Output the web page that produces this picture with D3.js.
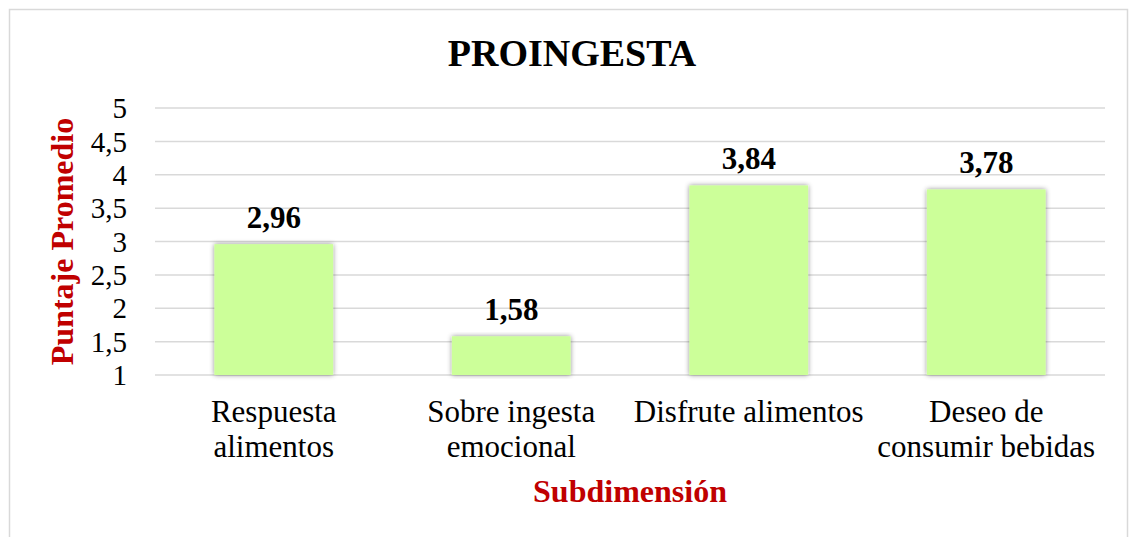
<!DOCTYPE html>
<html>
<head>
<meta charset="utf-8">
<script src="https://cdn.jsdelivr.net/npm/d3@7"></script>
<style>
  body { margin: 0; background: #fff; }
  svg { display: block; }
  text { font-family: "Liberation Serif", "Times New Roman", serif; }
</style>
</head>
<body>
<svg id="chart"></svg>
<script>
// Data
var categories = [["Respuesta", "alimentos"], ["Sobre ingesta", "emocional"], ["Disfrute alimentos"], ["Deseo de", "consumir bebidas"]];
var values = [2.96, 1.58, 3.84, 3.78];
var valueLabels = ["2,96", "1,58", "3,84", "3,78"];
var yTicks = [1, 1.5, 2, 2.5, 3, 3.5, 4, 4.5, 5];

var config = {
  width: 1136,
  height: 537,
  plot: { left: 155, right: 1105, top: 108, bottom: 375 },
  barColor: "#CCFF99",
  gridColor: "#D9D9D9",
  titleColor: "#C00000"
};

var svg = d3.select("#chart")
  .attr("width", config.width)
  .attr("height", config.height);

// shadow round the bars
var defs = svg.append("defs");
var filter = defs.append("filter").attr("id", "barShadow")
  .attr("x", "-20%").attr("y", "-10%").attr("width", "140%").attr("height", "120%");
filter.append("feDropShadow")
  .attr("dx", 0).attr("dy", 0).attr("stdDeviation", 2.5)
  .attr("flood-color", "#000").attr("flood-opacity", 0.45);

// outer frame
svg.append("rect")
  .attr("x", 9.5).attr("y", 9.5)
  .attr("width", 1118).attr("height", 540)
  .attr("fill", "none").attr("stroke", config.gridColor).attr("stroke-width", 1.5);

var x = d3.scaleBand()
  .domain(d3.range(categories.length))
  .range([config.plot.left, config.plot.right])
  .paddingInner(0.5).paddingOuter(0.25);

var y = d3.scaleLinear()
  .domain([1, 5])
  .range([config.plot.bottom, config.plot.top]);

// gridlines
svg.append("g")
  .selectAll("line")
  .data(yTicks)
  .join("line")
  .attr("x1", config.plot.left).attr("x2", config.plot.right)
  .attr("y1", function(d) { return y(d); }).attr("y2", function(d) { return y(d); })
  .attr("stroke", config.gridColor).attr("stroke-width", 1.5);

// y tick labels
svg.append("g")
  .selectAll("text")
  .data(yTicks)
  .join("text")
  .attr("x", 127)
  .attr("y", function(d) { return y(d); })
  .attr("dy", "0.35em")
  .attr("text-anchor", "end")
  .attr("font-size", 29)
  .attr("fill", "#000")
  .text(function(d) { return String(d).replace(".", ","); });

// bars
svg.append("g")
  .selectAll("rect")
  .data(values)
  .join("rect")
  .attr("x", function(d, i) { return x(i); })
  .attr("y", function(d) { return y(d); })
  .attr("width", x.bandwidth())
  .attr("height", function(d) { return y(1) - y(d); })
  .attr("fill", config.barColor)
  .attr("filter", "url(#barShadow)");

// value labels
svg.append("g")
  .selectAll("text")
  .data(values)
  .join("text")
  .attr("x", function(d, i) { return x(i) + x.bandwidth() / 2; })
  .attr("y", function(d) { return y(d) - 16; })
  .attr("text-anchor", "middle")
  .attr("font-size", 31)
  .attr("font-weight", "bold")
  .text(function(d, i) { return valueLabels[i]; });

// category labels
var catG = svg.append("g");
categories.forEach(function(lines, i) {
  var t = catG.append("text")
    .attr("x", x(i) + x.bandwidth() / 2)
    .attr("y", 422)
    .attr("text-anchor", "middle")
    .attr("font-size", 31);
  lines.forEach(function(line, j) {
    t.append("tspan")
      .attr("x", x(i) + x.bandwidth() / 2)
      .attr("dy", j === 0 ? 0 : 35)
      .text(line);
  });
});

// title
svg.append("text")
  .attr("x", 572)
  .attr("y", 66)
  .attr("text-anchor", "middle")
  .attr("font-size", 38)
  .attr("font-weight", "bold")
  .text("PROINGESTA");

// axis titles
svg.append("text")
  .attr("x", (config.plot.left + config.plot.right) / 2)
  .attr("y", 502)
  .attr("text-anchor", "middle")
  .attr("font-size", 32)
  .attr("font-weight", "bold")
  .attr("fill", config.titleColor)
  .text("Subdimensión");

svg.append("text")
  .attr("transform", "translate(73," + ((config.plot.top + config.plot.bottom) / 2) + ") rotate(-90)")
  .attr("text-anchor", "middle")
  .attr("font-size", 32)
  .attr("font-weight", "bold")
  .attr("fill", config.titleColor)
  .text("Puntaje Promedio");
</script>
</body>
</html>
